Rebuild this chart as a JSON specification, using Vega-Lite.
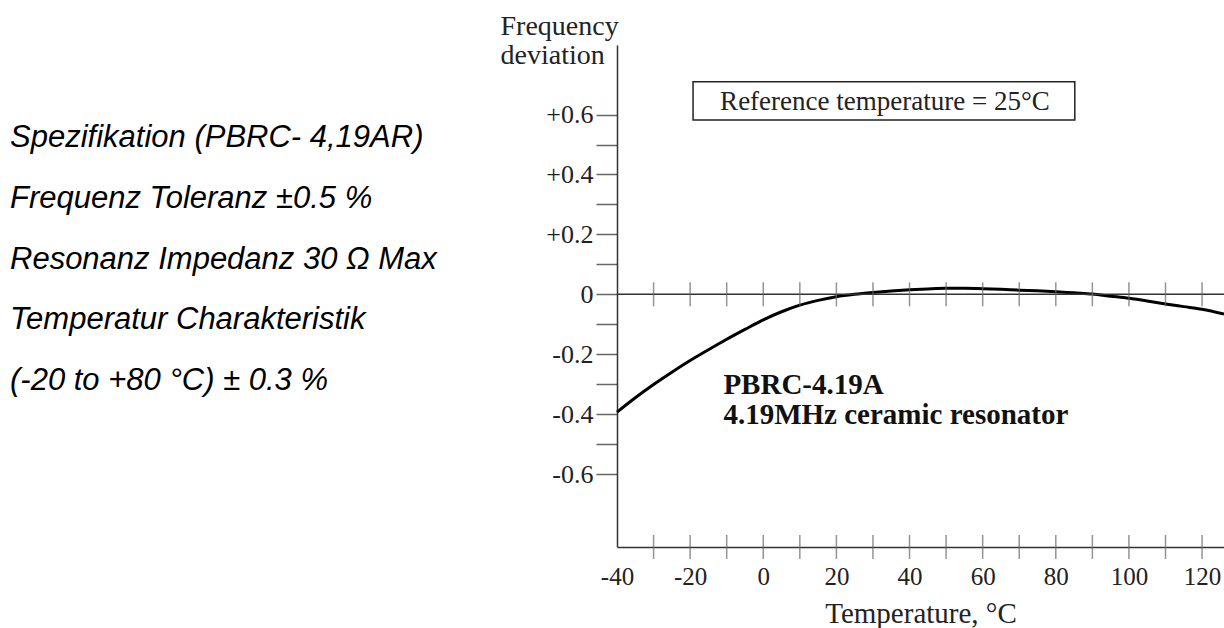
{
  "$schema": "https://vega.github.io/schema/vega-lite/v6.json",
  "background": "white",
  "padding": {"left": 10, "top": 12, "right": 0, "bottom": 0},
  "spacing": 10,
  "config": {"view": {"stroke": null}, "font": "Liberation Serif"},
  "resolve": {"scale": {"x": "independent", "y": "independent"}},
  "datasets": {
    "spec": [
      {"line": 1, "text": "Spezifikation (PBRC- 4,19AR)"},
      {"line": 2, "text": "Frequenz Toleranz ±0.5 %"},
      {"line": 3, "text": "Resonanz Impedanz 30 Ω Max"},
      {"line": 4, "text": "Temperatur Charakteristik"},
      {"line": 5, "text": "(-20 to +80 °C) ± 0.3 %"}
    ],
    "curve": [
      {"temp": -40, "dev": -0.393},
      {"temp": -35, "dev": -0.345},
      {"temp": -30, "dev": -0.301},
      {"temp": -25, "dev": -0.260},
      {"temp": -20, "dev": -0.221},
      {"temp": -15, "dev": -0.185},
      {"temp": -10, "dev": -0.150},
      {"temp": -5, "dev": -0.117},
      {"temp": 0, "dev": -0.085},
      {"temp": 5, "dev": -0.058},
      {"temp": 10, "dev": -0.036},
      {"temp": 15, "dev": -0.020},
      {"temp": 20, "dev": -0.008},
      {"temp": 25, "dev": 0.000},
      {"temp": 30, "dev": 0.006},
      {"temp": 35, "dev": 0.011},
      {"temp": 40, "dev": 0.015},
      {"temp": 45, "dev": 0.018},
      {"temp": 50, "dev": 0.020},
      {"temp": 55, "dev": 0.020},
      {"temp": 60, "dev": 0.019},
      {"temp": 65, "dev": 0.017},
      {"temp": 70, "dev": 0.014},
      {"temp": 75, "dev": 0.012},
      {"temp": 80, "dev": 0.009},
      {"temp": 85, "dev": 0.005},
      {"temp": 90, "dev": 0.001},
      {"temp": 95, "dev": -0.006},
      {"temp": 100, "dev": -0.013},
      {"temp": 105, "dev": -0.022},
      {"temp": 110, "dev": -0.032},
      {"temp": 115, "dev": -0.041},
      {"temp": 120, "dev": -0.050},
      {"temp": 126, "dev": -0.066}
    ],
    "ticks": [
      {"t": -30}, {"t": -20}, {"t": -10}, {"t": 0}, {"t": 10}, {"t": 20},
      {"t": 30}, {"t": 40}, {"t": 50}, {"t": 60}, {"t": 70}, {"t": 80},
      {"t": 90}, {"t": 100}, {"t": 110}, {"t": 120}
    ]
  },
  "hconcat": [
    {
      "width": 480,
      "height": 502,
      "data": {"name": "spec"},
      "mark": {"type": "text", "font": "Liberation Sans", "fontStyle": "italic", "fontSize": 31, "align": "left", "baseline": "alphabetic", "color": "black"},
      "encoding": {
        "x": {"datum": 0, "type": "quantitative", "scale": {"domain": [0, 1]}, "axis": null},
        "y": {"field": "line", "type": "quantitative", "scale": {"domain": [-0.68, 7.58], "reverse": true, "nice": false, "zero": false}, "axis": null},
        "text": {"field": "text"}
      }
    },
    {
      "width": 607,
      "height": 502,
      "layer": [
        {
          "data": {"name": "curve"},
          "mark": {"type": "line", "color": "black", "strokeWidth": 3, "interpolate": "monotone"},
          "encoding": {
            "x": {
              "field": "temp", "type": "quantitative",
              "scale": {"domain": [-40, 126], "nice": false, "zero": false},
              "axis": {
                "title": "Temperature, °C",
                "values": [-40, -20, 0, 20, 40, 60, 80, 100, 120],
                "ticks": false,
                "grid": false,
                "labelPadding": 17,
                "labelFontSize": 25,
                "labelFont": "Liberation Serif",
                "labelColor": "#222",
                "labelFlush": false,
                "labelOverlap": false,
                "labelExpr": "datum.value < 0 ? '-' + format(-datum.value, 'd') : format(datum.value, 'd')",
                "titleFont": "Liberation Serif",
                "titleFontSize": 29,
                "titleFontWeight": "normal",
                "titleColor": "#222",
                "titlePadding": 10,
                "domainColor": "#333",
                "domainWidth": 1.5
              }
            },
            "y": {
              "field": "dev", "type": "quantitative",
              "scale": {"domain": [-0.843, 0.832], "nice": false, "zero": false},
              "axis": {
                "title": ["Frequency", "deviation"],
                "titleAngle": 0,
                "titleAlign": "left",
                "titleBaseline": "top",
                "titleX": -117,
                "titleY": -33,
                "titleFont": "Liberation Serif",
                "titleFontSize": 28,
                "titleFontWeight": "normal",
                "titleLineHeight": 29,
                "titleColor": "#222",
                "values": [-0.6, -0.5, -0.4, -0.3, -0.2, -0.1, 0, 0.1, 0.2, 0.3, 0.4, 0.5, 0.6],
                "labelExpr": "round(datum.value * 10) % 2 != 0 ? '' : (datum.value > 0.001 ? '+' + format(datum.value, '.1f') : (datum.value < -0.001 ? '-' + format(-datum.value, '.1f') : '0'))",
                "labelFont": "Liberation Serif",
                "labelFontSize": 26,
                "labelColor": "#222",
                "labelPadding": 3,
                "labelOverlap": false,
                "tickSize": 21,
                "tickColor": "#666",
                "tickWidth": 1.5,
                "grid": false,
                "domainColor": "#333",
                "domainWidth": 1.5
              }
            }
          }
        },
        {
          "data": {"values": [{}]},
          "mark": {"type": "rule", "color": "#333", "strokeWidth": 1.5},
          "encoding": {"y": {"datum": 0, "type": "quantitative"}}
        },
        {
          "data": {"name": "ticks"},
          "mark": {"type": "tick", "orient": "vertical", "size": 24, "thickness": 1.5, "color": "#666"},
          "encoding": {
            "x": {"field": "t", "type": "quantitative"},
            "y": {"datum": 0, "type": "quantitative"}
          }
        },
        {
          "data": {"name": "ticks"},
          "mark": {"type": "tick", "orient": "vertical", "size": 24, "thickness": 1.5, "color": "#666"},
          "encoding": {
            "x": {"field": "t", "type": "quantitative"},
            "y": {"datum": -0.843, "type": "quantitative"}
          }
        },
        {
          "data": {"values": [{"label": "Reference temperature = 25°C"}]},
          "mark": {"type": "rect", "fill": "white", "stroke": "#222", "strokeWidth": 1.5},
          "encoding": {
            "x": {"datum": -19.2, "type": "quantitative"},
            "x2": {"datum": 85.2},
            "y": {"datum": 0.709, "type": "quantitative"},
            "y2": {"datum": 0.582}
          }
        },
        {
          "data": {"values": [{"label": "Reference temperature = 25°C"}]},
          "mark": {"type": "text", "align": "left", "baseline": "alphabetic", "fontSize": 27, "font": "Liberation Serif", "color": "#222"},
          "encoding": {
            "x": {"datum": -11.8, "type": "quantitative"},
            "y": {"datum": 0.615, "type": "quantitative"},
            "text": {"field": "label"}
          }
        },
        {
          "data": {"values": [{"name": "PBRC-4.19A", "desc": "4.19MHz ceramic resonator"}]},
          "mark": {"type": "text", "align": "left", "baseline": "alphabetic", "fontSize": 29, "fontWeight": "bold", "font": "Liberation Serif", "color": "#111"},
          "encoding": {
            "x": {"datum": -10.9, "type": "quantitative"},
            "y": {"datum": -0.333, "type": "quantitative"},
            "text": {"field": "name"}
          }
        },
        {
          "data": {"values": [{"name": "PBRC-4.19A", "desc": "4.19MHz ceramic resonator"}]},
          "mark": {"type": "text", "align": "left", "baseline": "alphabetic", "fontSize": 29, "fontWeight": "bold", "font": "Liberation Serif", "color": "#111"},
          "encoding": {
            "x": {"datum": -10.9, "type": "quantitative"},
            "y": {"datum": -0.431, "type": "quantitative"},
            "text": {"field": "desc"}
          }
        }
      ]
    }
  ]
}
